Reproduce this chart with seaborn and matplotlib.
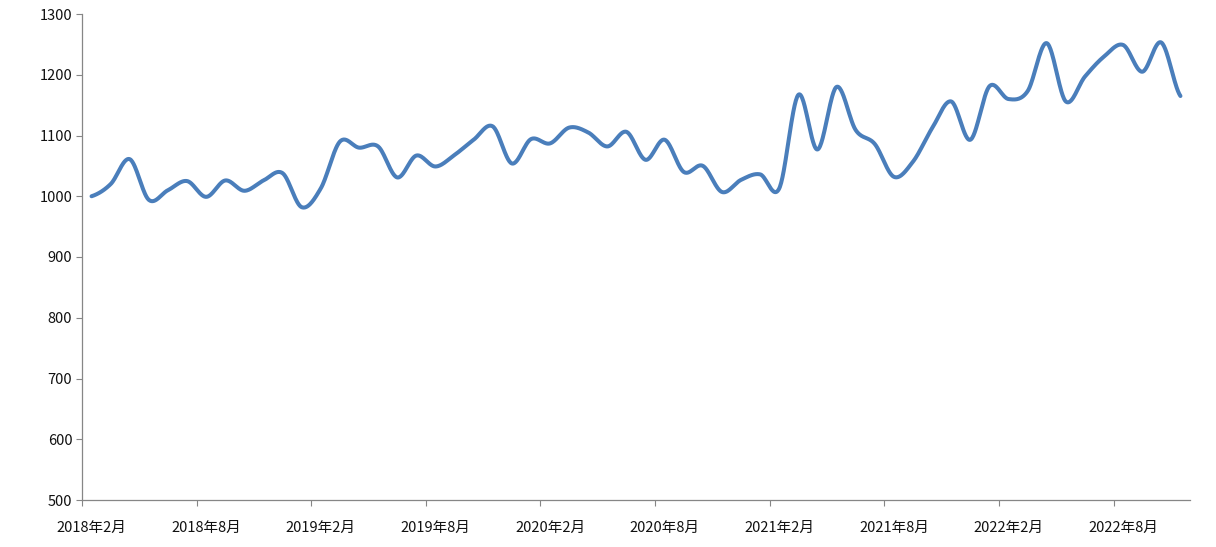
import numpy as np
import pandas as pd
import matplotlib
matplotlib.use("Agg")
import matplotlib.pyplot as plt
import seaborn as sns

# ---- data (monthly, 2018-02 .. 2022-11) ----
months = pd.date_range("2018-02-01", periods=58, freq="MS")
categories = [f"{d.year}年{d.month}月" for d in months]
values = [
    1000, 1020, 1061, 994, 1010, 1025, 999, 1026, 1009, 1026,
    1038, 982, 1013, 1090, 1080, 1082, 1031, 1067, 1049, 1068,
    1093, 1115, 1054, 1094, 1087, 1113, 1105, 1082, 1106, 1060,
    1093, 1040, 1050, 1007, 1027, 1036, 1013, 1167, 1077, 1180,
    1109, 1086, 1032, 1057, 1112, 1156, 1093, 1181, 1160, 1173,
    1252, 1156, 1197, 1230, 1249, 1205, 1253, 1165,
]
label_every = 6
y_ticks = [500, 600, 700, 800, 900, 1000, 1100, 1200, 1300]

df = pd.DataFrame({"idx": np.arange(len(values)), "value": values})

# ---- Excel-like smoothed line (Catmull-Rom / cubic Bezier between points) ----
def smooth(y, n=30):
    y = np.asarray(y, float)
    p = np.concatenate([[y[0]], y, [y[-1]]])
    xs, ys = [], []
    t = np.linspace(0, 1, n, endpoint=False)
    for i in range(len(y) - 1):
        p0, p1, p2, p3 = p[i], p[i + 1], p[i + 2], p[i + 3]
        c1 = p1 + (p2 - p0) / 6.0
        c2 = p2 - (p3 - p1) / 6.0
        b = (1 - t) ** 3 * p1 + 3 * (1 - t) ** 2 * t * c1 + 3 * (1 - t) * t ** 2 * c2 + t ** 3 * p2
        xs.append(i + t)
        ys.append(b)
    xs.append([len(y) - 1])
    ys.append([y[-1]])
    return np.concatenate(xs), np.concatenate(ys)

sx, sy = smooth(df["value"].values)
smooth_df = pd.DataFrame({"x": sx, "y": sy})

sns.set_theme(style="white")
plt.rcParams["font.family"] = ["Noto Sans CJK SC", "DejaVu Sans"]

fig = plt.figure(figsize=(12.16, 5.47), dpi=100)
ax = fig.add_axes([82 / 1216, 1 - 500 / 547, (1190 - 82) / 1216, (500 - 14) / 547])

sns.lineplot(data=smooth_df, x="x", y="y", ax=ax, color="#4a7ebb", linewidth=2.9,
             sort=False, estimator=None)

n = len(values)
ax.set_xlim(-0.5, n - 0.5)
ax.set_ylim(500, 1300)
ax.set_yticks(y_ticks)
ax.set_yticklabels([str(v) for v in y_ticks], fontsize=10.5, color="#111111")

# major ticks at category boundaries, labels at category centres
ax.set_xticks([i - 0.5 for i in range(0, n, label_every)])
ax.set_xticklabels([])
ax.set_xticks(list(range(0, n, label_every)), minor=True)
ax.set_xticklabels([categories[i] for i in range(0, n, label_every)], minor=True,
                   fontsize=10.5, color="#111111")
ax.tick_params(axis="x", which="major", direction="out", length=4, width=0.8,
               color="#868686", bottom=True)
ax.tick_params(axis="x", which="minor", length=0, pad=15, bottom=True)
ax.tick_params(axis="y", direction="out", length=4, width=0.8, color="#868686",
               left=True, pad=3)

ax.set_xlabel("")
ax.set_ylabel("")
ax.grid(False)
for s in ["top", "right"]:
    ax.spines[s].set_visible(False)
for s in ["left", "bottom"]:
    ax.spines[s].set_color("#868686")
    ax.spines[s].set_linewidth(0.9)

fig.savefig("out.png", dpi=100)
